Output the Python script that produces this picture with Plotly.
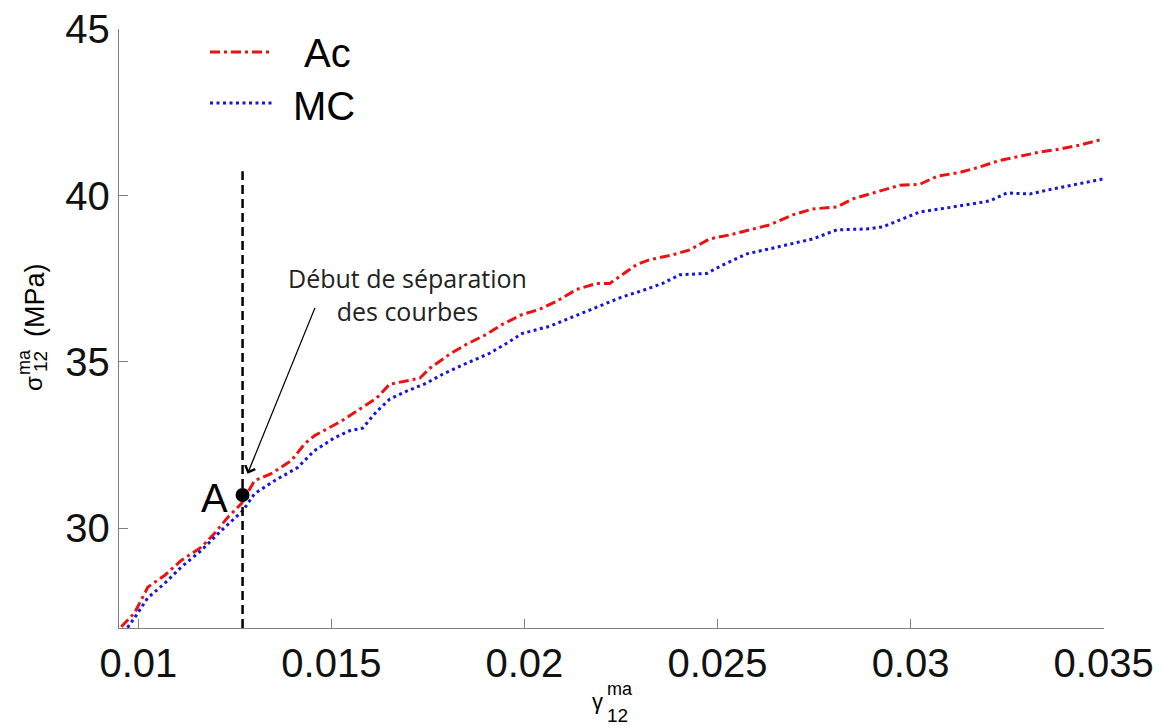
import plotly.graph_objects as go

# ---------------- data ----------------
ac_strain = [0.00956, 0.00990, 0.01025, 0.01068, 0.01111, 0.01163, 0.01197, 0.01232, 0.01267,
             0.01301, 0.01344, 0.01396, 0.01431, 0.01456, 0.01526, 0.01586, 0.01617, 0.01651,
             0.01695, 0.01729, 0.01755, 0.01806, 0.01850, 0.01902, 0.01943, 0.01995, 0.02039,
             0.02083, 0.02135, 0.02187, 0.02221, 0.02254, 0.02291, 0.02324, 0.02384, 0.02428,
             0.02480, 0.02532, 0.02591, 0.02635, 0.02695, 0.02747, 0.02809, 0.02850, 0.02912,
             0.02972, 0.03024, 0.03068, 0.03128, 0.03179, 0.03231, 0.03283, 0.03335, 0.03386,
             0.03438, 0.03498]
ac_stress = [27.04, 27.45, 28.23, 28.58, 29.03, 29.43, 29.84, 30.33, 30.74,
             31.43, 31.64, 32.03, 32.54, 32.78, 33.22, 33.67, 33.91, 34.33,
             34.42, 34.51, 34.81, 35.23, 35.53, 35.83, 36.13, 36.43, 36.58,
             36.82, 37.18, 37.36, 37.36, 37.63, 37.93, 38.07, 38.22, 38.37,
             38.70, 38.82, 39.00, 39.12, 39.42, 39.60, 39.66, 39.90, 40.11,
             40.31, 40.34, 40.58, 40.70, 40.86, 41.06, 41.19, 41.31, 41.40,
             41.52, 41.70]

mc_strain = [0.00972, 0.00990, 0.01024, 0.01068, 0.01111, 0.01163, 0.01215, 0.01271, 0.01301,
             0.01353, 0.01412, 0.01456, 0.01508, 0.01547, 0.01581, 0.01618, 0.01651, 0.01695,
             0.01746, 0.01788, 0.01850, 0.01910, 0.01954, 0.01995, 0.02065, 0.02109, 0.02150,
             0.02202, 0.02254, 0.02299, 0.02358, 0.02402, 0.02472, 0.02506, 0.02576, 0.02635,
             0.02695, 0.02747, 0.02809, 0.02887, 0.02928, 0.02972, 0.03024, 0.03094, 0.03145,
             0.03205, 0.03249, 0.03309, 0.03368, 0.03438, 0.03498]
mc_stress = [27.01, 27.30, 27.90, 28.34, 28.83, 29.33, 29.93, 30.53, 31.04,
             31.43, 31.82, 32.33, 32.72, 32.93, 33.01, 33.52, 33.88, 34.12,
             34.36, 34.63, 34.96, 35.26, 35.56, 35.86, 36.07, 36.28, 36.46,
             36.73, 36.96, 37.12, 37.36, 37.62, 37.66, 37.87, 38.25, 38.40,
             38.55, 38.70, 38.97, 39.00, 39.06, 39.27, 39.51, 39.63, 39.72,
             39.84, 40.08, 40.05, 40.20, 40.35, 40.50]

sep_strain = 0.0127          # point A
sep_stress = 31.0
vline_stress = [27.0, 40.73]  # extent of dashed separation line
arrow_tip = (0.01283, 31.64)
arrow_tail = (0.01459, 36.67)

x_range = [0.0095, 0.03501]
y_range = [27, 45.01]
x_ticks = [0.01, 0.015, 0.02, 0.025, 0.03, 0.035]
x_ticklabels = ["0.01", "0.015", "0.02", "0.025", "0.03", "0.035"]
y_ticks = [30, 35, 40, 45]
y_ticklabels = ["30", "35", "40", "45"]

series_names = ["Ac", "MC"]
annotation_text = "Début de séparation<br>des courbes"

# ---------------- layout helpers ----------------
OFF = 8                      # page body margin of the browser
W, H = 1163 - OFF, 726 - OFF
# plot-area edges in page pixels
PL, PR, PT, PB = 119, 1104, 29, 628
L, R, T, B = PL - OFF, PR - OFF, PT - OFF, PB - OFF
RED = "#ee1111"
BLUE = "#1515e0"
AX = "#808080"
FONT = "Liberation Sans, Arial, sans-serif"


def px(xp):
    return (xp - PL) / (PR - PL)


def py(yp):
    return (PB - yp) / (PB - PT)


fig = go.Figure()

fig.add_trace(go.Scatter(
    x=ac_strain, y=ac_stress, mode="lines", name=series_names[0],
    line=dict(color=RED, width=3, dash="10px,4px,3px,4px"), showlegend=False))
fig.add_trace(go.Scatter(
    x=mc_strain, y=mc_stress, mode="lines", name=series_names[1],
    line=dict(color=BLUE, width=3, dash="3px,3.5px"), showlegend=False))

# dashed vertical separation line
fig.add_trace(go.Scatter(
    x=[sep_strain, sep_strain], y=vline_stress, mode="lines",
    line=dict(color="black", width=2.5, dash="9px,5px"), showlegend=False,
    hoverinfo="skip"))

# point A
fig.add_trace(go.Scatter(
    x=[sep_strain], y=[sep_stress], mode="markers",
    marker=dict(color="black", size=14), showlegend=False))

annotations = []
# "A" label
annotations.append(dict(x=sep_strain, y=sep_stress, xref="x", yref="y", text="A",
                        showarrow=False, xanchor="right", yanchor="middle",
                        xshift=-13, yshift=-3, font=dict(family=FONT, size=40, color="black")))
# arrow
annotations.append(dict(x=arrow_tip[0], y=arrow_tip[1], xref="x", yref="y",
                        ax=arrow_tail[0], ay=arrow_tail[1], axref="x", ayref="y",
                        text="", showarrow=True, arrowhead=4, arrowsize=1.6,
                        arrowwidth=1.3, arrowcolor="black"))
# annotation text
annotations.append(dict(x=px(407), y=py(294), xref="paper", yref="paper",
                        text=annotation_text, showarrow=False, xanchor="center",
                        yanchor="middle", align="center",
                        font=dict(family="Open Sans, sans-serif", size=25, color="#222")))

# legend (manual)
shapes = [
    dict(type="line", xref="paper", yref="paper", x0=px(210), x1=px(272), y0=py(52), y1=py(52),
         line=dict(color=RED, width=3, dash="10px,4px,3px,4px")),
    dict(type="line", xref="paper", yref="paper", x0=px(210), x1=px(272), y0=py(103), y1=py(103),
         line=dict(color=BLUE, width=3, dash="3px,3.5px")),
]
annotations.append(dict(x=px(302), y=py(53), xref="paper", yref="paper", text=series_names[0],
                        showarrow=False, xanchor="left", yanchor="middle",
                        font=dict(family=FONT, size=40, color="black")))
annotations.append(dict(x=px(291), y=py(106), xref="paper", yref="paper", text=series_names[1],
                        showarrow=False, xanchor="left", yanchor="middle",
                        font=dict(family=FONT, size=40, color="black")))

# x-axis title  γ ma/12
annotations.append(dict(x=px(597), y=py(701), xref="paper", yref="paper", text="γ",
                        showarrow=False, xanchor="center", yanchor="middle",
                        font=dict(family=FONT, size=22, color="black")))
annotations.append(dict(x=px(605), y=py(689), xref="paper", yref="paper", text="ma",
                        showarrow=False, xanchor="left", yanchor="middle",
                        font=dict(family=FONT, size=18, color="black")))
annotations.append(dict(x=px(605), y=py(715), xref="paper", yref="paper", text="12",
                        showarrow=False, xanchor="left", yanchor="middle",
                        font=dict(family=FONT, size=19, color="black")))

# y-axis title  σ ma/12 (MPa)
annotations.append(dict(x=px(35), y=py(300), xref="paper", yref="paper", text="(MPa)",
                        showarrow=False, textangle=-90, xanchor="center", yanchor="middle",
                        font=dict(family=FONT, size=27, color="black")))
annotations.append(dict(x=px(24), y=py(362), xref="paper", yref="paper", text="ma",
                        showarrow=False, textangle=-90, xanchor="center", yanchor="middle",
                        font=dict(family=FONT, size=18, color="black")))
annotations.append(dict(x=px(40), y=py(362), xref="paper", yref="paper", text="12",
                        showarrow=False, textangle=-90, xanchor="center", yanchor="middle",
                        font=dict(family=FONT, size=19, color="black")))
annotations.append(dict(x=px(33), y=py(384), xref="paper", yref="paper", text="σ",
                        showarrow=False, textangle=-90, xanchor="center", yanchor="middle",
                        font=dict(family=FONT, size=24, color="black")))

fig.update_layout(
    width=W, height=H,
    margin=dict(l=L, r=W - R, t=T, b=H - B, pad=0, autoexpand=False),
    paper_bgcolor="white", plot_bgcolor="white",
    showlegend=False,
    annotations=annotations,
    shapes=shapes,
    font=dict(family=FONT, color="black"),
)
fig.update_xaxes(range=x_range, tickvals=x_ticks, ticktext=x_ticklabels, automargin=False,
                 ticklabeloverflow="allow",
                 showgrid=False, zeroline=False, showline=True, linecolor=AX, linewidth=1.3,
                 ticks="inside", ticklen=9, tickcolor=AX, tickwidth=1.2,
                 tickfont=dict(family=FONT, size=40, color="#111"), mirror=False)
fig.update_yaxes(range=y_range, tickvals=y_ticks, ticktext=y_ticklabels, automargin=False,
                 ticklabeloverflow="allow",
                 showgrid=False, zeroline=False, showline=True, linecolor=AX, linewidth=1.3,
                 ticks="inside", ticklen=9, tickcolor=AX, tickwidth=1.2,
                 tickfont=dict(family=FONT, size=40, color="#111"), mirror=False)

fig.write_html("out.html")
